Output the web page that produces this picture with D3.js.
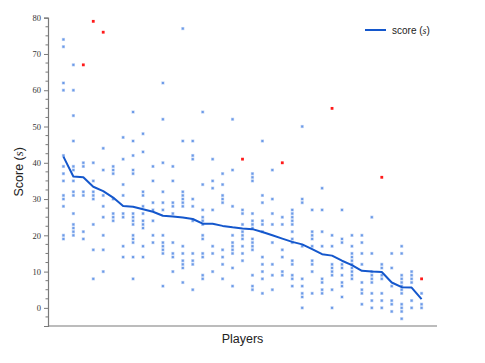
<!DOCTYPE html>
<html>
<head>
<meta charset="utf-8">
<script src="https://cdn.jsdelivr.net/npm/d3@7"></script>
<style>
  html, body { margin: 0; padding: 0; background: #fff; }
  svg { display: block; }
</style>
</head>
<body>
<svg id="chart"></svg>
<script>
const width = 485;
const height = 363;

// scores per player (column)
const playerScores = [
    [74, 72, 62, 60, 42, 39, 37, 35, 31, 30, 28, 20, 19],
    [67, 60, 53, 46, 39, 38, 35, 32, 31, 26, 23, 22, 21, 20],
    [40, 39, 32, 31, 21, 19],
    [40, 35, 32, 31, 30, 23, 16, 8],
    [44, 38, 31, 28, 25, 20, 16, 10],
    [39, 38, 37, 30, 26, 25, 24],
    [47, 41, 34, 31, 26, 25, 17, 14],
    [54, 46, 42, 38, 37, 26, 25, 24, 23, 20, 19, 18, 14, 8],
    [48, 43, 32, 31, 28, 26, 24, 23, 22, 17, 14],
    [39, 35, 29, 27, 24, 20, 18],
    [62, 52, 40, 32, 29, 27, 20, 18, 17, 16, 15, 6],
    [39, 35, 29, 28, 26, 18, 15, 14, 10],
    [77, 46, 32, 31, 30, 29, 28, 17, 15, 13, 12, 11, 7],
    [46, 42, 41, 30, 28, 24, 15, 13, 12, 5],
    [54, 34, 27, 25, 24, 23, 20, 19, 15, 14, 9, 8],
    [41, 35, 33, 27, 17, 15, 10],
    [37, 34, 31, 30, 29, 16, 14, 12, 8],
    [52, 38, 28, 20, 18, 17, 16, 15, 11, 6],
    [27, 26, 23, 21, 20, 19, 17, 15, 13],
    [37, 36, 35, 26, 24, 23, 22, 19, 18, 17, 16, 9, 6, 5],
    [46, 31, 29, 24, 23, 21, 14, 12, 10, 8, 4],
    [38, 30, 26, 23, 18, 12, 9, 5],
    [25, 23, 16, 14, 10, 9],
    [27, 26, 25, 24, 23, 21, 19, 18, 13, 12, 9, 8, 6],
    [50, 30, 29, 17, 8, 6, 4, 3, 0],
    [27, 21, 20, 19, 17, 13, 12, 10, 4],
    [33, 27, 21, 17, 8, 7, 5, 4],
    [20, 17, 12, 11, 10, 9, 5, 0],
    [27, 19, 18, 12, 11, 9, 7, 6, 3],
    [20, 17, 15, 14, 13, 12, 11, 10, 9, 8],
    [20, 18, 15, 12, 7, 5, 4, 1],
    [25, 15, 10, 9, 8, 7, 4, 2, 0],
    [12, 11, 9, 8, 4, 2, 0],
    [15, 11, 6, 2, 1, -1],
    [17, 15, 9, 8, 7, 6, 5, 4, 1, 0, -1, -3],
    [10, 9, 8, 7, 2, 0],
    [4, 1, 0]
];

// red outliers: player index (1-based) and score
const outlierPlayers = [3, 4, 5, 19, 23, 28, 33, 37];
const outlierScores = [67, 79, 76, 41, 40, 55, 36, 8];

// the blue line, one value per player
const meanScores = [
    41.7, 36.2, 36.0, 33.4, 32.2, 30.4, 28.1, 27.9, 27.2, 26.5,
    25.4, 25.2, 24.9, 24.5, 23.2, 23.2, 22.6, 22.2, 21.9, 21.7,
    20.9, 20.0, 19.1, 18.2, 17.5, 16.2, 14.8, 14.4, 13.0, 11.8,
    10.2, 10.0, 9.9, 7.0, 5.7, 5.6, 2.4
];

const yMajorTicks = [0, 10, 20, 30, 40, 50, 60, 70, 80];

const players = playerScores.map((d, i) => i + 1);

const plot = { left: 48, right: 437, top: 17.7, bottom: 326 };

const svg = d3.select("#chart")
    .attr("width", width)
    .attr("height", height)
    .attr("viewBox", [0, 0, width, height]);

const x = d3.scalePoint()
    .domain(players)
    .range([plot.left, plot.right])
    .padding(1.55);

const y = d3.scaleLinear()
    .domain([-5, 80])
    .range([plot.bottom, plot.top]);

// y axis: major ticks labelled, minor every 2.5
const minorTicks = d3.range(-2.5, 80, 2.5).filter(v => v % 10 !== 0);
const axisColor = "#7a7a7a";

const yAxis = svg.append("g")
    .attr("transform", `translate(${plot.left},0)`)
    .call(d3.axisLeft(y).tickValues(yMajorTicks).tickSize(4).tickPadding(3).tickFormat(d3.format("d")));
yAxis.select(".domain").attr("stroke", axisColor).attr("stroke-width", 1.2);
yAxis.selectAll(".tick line").attr("stroke", axisColor);
yAxis.selectAll(".tick text")
    .attr("fill", "#333")
    .style("font-family", "'Liberation Serif', 'DejaVu Serif', serif")
    .style("font-size", "8.5px");

svg.append("g")
    .attr("transform", `translate(${plot.left},0)`)
    .selectAll("line")
    .data(minorTicks)
    .join("line")
        .attr("x1", -2.5)
        .attr("x2", 0)
        .attr("y1", d => y(d))
        .attr("y2", d => y(d))
        .attr("stroke", axisColor);

// x axis: just the line
svg.append("line")
    .attr("x1", plot.left)
    .attr("x2", plot.right)
    .attr("y1", plot.bottom)
    .attr("y2", plot.bottom)
    .attr("stroke", axisColor)
    .attr("stroke-width", 1.2);

// scatter points
const flat = [];
playerScores.forEach((scores, i) => {
    scores.forEach(s => flat.push({ player: players[i], score: s }));
});

const dots = svg.append("g");
dots.selectAll("rect.halo")
    .data(flat)
    .join("rect")
        .attr("class", "halo")
        .attr("x", d => x(d.player) - 1.6)
        .attr("y", d => y(d.score) - 1.6)
        .attr("width", 3.2)
        .attr("height", 3.2)
        .attr("fill", "#c2d5f5");
dots.selectAll("rect.core")
    .data(flat)
    .join("rect")
        .attr("class", "core")
        .attr("x", d => x(d.player) - 1)
        .attr("y", d => y(d.score) - 1)
        .attr("width", 2)
        .attr("height", 2)
        .attr("fill", "#6b9ae8");

svg.append("g")
    .selectAll("rect")
    .data(outlierPlayers.map((p, i) => ({ player: p, score: outlierScores[i] })))
    .join("rect")
        .attr("x", d => x(d.player) - 1.4)
        .attr("y", d => y(d.score) - 1.4)
        .attr("width", 2.8)
        .attr("height", 2.8)
        .attr("fill", "#ff1a1a");

// mean line
const line = d3.line()
    .x((d, i) => x(players[i]))
    .y(d => y(d));

svg.append("path")
    .datum(meanScores)
    .attr("d", line)
    .attr("fill", "none")
    .attr("stroke", "#1457cc")
    .attr("stroke-width", 2)
    .attr("stroke-linejoin", "round");

// legend
const legend = svg.append("g").attr("transform", "translate(365,30)");
legend.append("line")
    .attr("x1", 0)
    .attr("x2", 21)
    .attr("stroke", "#1457cc")
    .attr("stroke-width", 2);
const legendText = legend.append("text")
    .attr("x", 27)
    .attr("y", 4)
    .style("font-family", "'Liberation Sans', Arial, sans-serif")
    .style("font-size", "10px")
    .attr("fill", "#222");
legendText.append("tspan").text("score (");
legendText.append("tspan")
    .style("font-family", "'Liberation Serif', serif")
    .style("font-style", "italic")
    .text("s");
legendText.append("tspan").text(")");

// axis titles
const yTitle = svg.append("text")
    .attr("transform", `translate(23,${(plot.top + plot.bottom) / 2}) rotate(-90)`)
    .attr("text-anchor", "middle")
    .style("font-family", "'Liberation Sans', Arial, sans-serif")
    .style("font-size", "12.5px")
    .attr("fill", "#222");
yTitle.append("tspan").text("Score (");
yTitle.append("tspan")
    .style("font-family", "'Liberation Serif', serif")
    .style("font-style", "italic")
    .text("s");
yTitle.append("tspan").text(")");

svg.append("text")
    .attr("x", (plot.left + plot.right) / 2)
    .attr("y", 343)
    .attr("text-anchor", "middle")
    .style("font-family", "'Liberation Sans', Arial, sans-serif")
    .style("font-size", "12.5px")
    .attr("fill", "#222")
    .text("Players");
</script>
</body>
</html>
